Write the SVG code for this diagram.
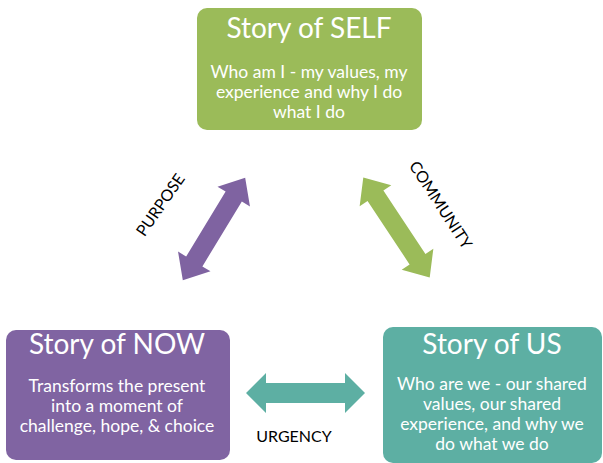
<svg xmlns="http://www.w3.org/2000/svg" width="603" height="463" viewBox="0 0 603 463">
<style>
.title{font-family:Lato,"Open Sans",sans-serif;font-size:28px;fill:#fff;text-anchor:middle}
.body{font-family:Lato,"Open Sans",sans-serif;font-size:17.5px;fill:#fff;text-anchor:middle}
.lbl{font-family:Lato,"Open Sans",sans-serif;font-size:16px;fill:#000;text-anchor:middle}
</style>
<defs>
<path id="dbl" d="M -60 0 L -38 -19 L -38 -9.5 L 38 -9.5 L 38 -19 L 60 0 L 38 19 L 38 9.5 L -38 9.5 L -38 19 Z"/>
</defs>
<rect width="603" height="463" fill="#fff"/>
<g id="connectors">
<use href="#dbl" fill="#7F63A1" transform="translate(214,229) rotate(-58.7)"/>
<use href="#dbl" fill="#9BBB59" transform="translate(396.5,227.5) rotate(56.4)"/>
<path d="M 246 393 L 266 373 L 266 383 L 345 383 L 345 373 L 365 393 L 345 413 L 345 403 L 266 403 L 266 413 Z" fill="#5DAFA3"/>
<text class="lbl" transform="translate(165,208) rotate(-55)">PURPOSE</text>
<text class="lbl" transform="translate(436,208) rotate(57)">COMMUNITY</text>
<text class="lbl" x="294" y="442">URGENCY</text>
</g>
<g id="self">
<rect x="197" y="8" width="225" height="122" rx="10" fill="#9BBB59"/>
<text class="title" x="309" y="38">Story of SELF</text>
<text class="body" x="309" y="78">Who am I - my values, my</text>
<text class="body" x="309" y="98">experience and why I do</text>
<text class="body" x="309" y="118">what I do</text>
</g>
<g id="now">
<rect x="6" y="330" width="224" height="130" rx="10" fill="#8064A2"/>
<text class="title" x="117" y="354">Story of NOW</text>
<text class="body" x="117" y="392">Transforms the present</text>
<text class="body" x="117" y="412">into a moment of</text>
<text class="body" x="117" y="432">challenge, hope, &amp; choice</text>
</g>
<g id="us">
<rect x="383" y="327" width="219" height="136" rx="10" fill="#5DAFA3"/>
<text class="title" x="492" y="354">Story of US</text>
<text class="body" x="492" y="390">Who are we - our shared</text>
<text class="body" x="492" y="410">values, our shared</text>
<text class="body" x="492" y="430">experience, and why we</text>
<text class="body" x="492" y="450">do what we do</text>
</g>
</svg>
